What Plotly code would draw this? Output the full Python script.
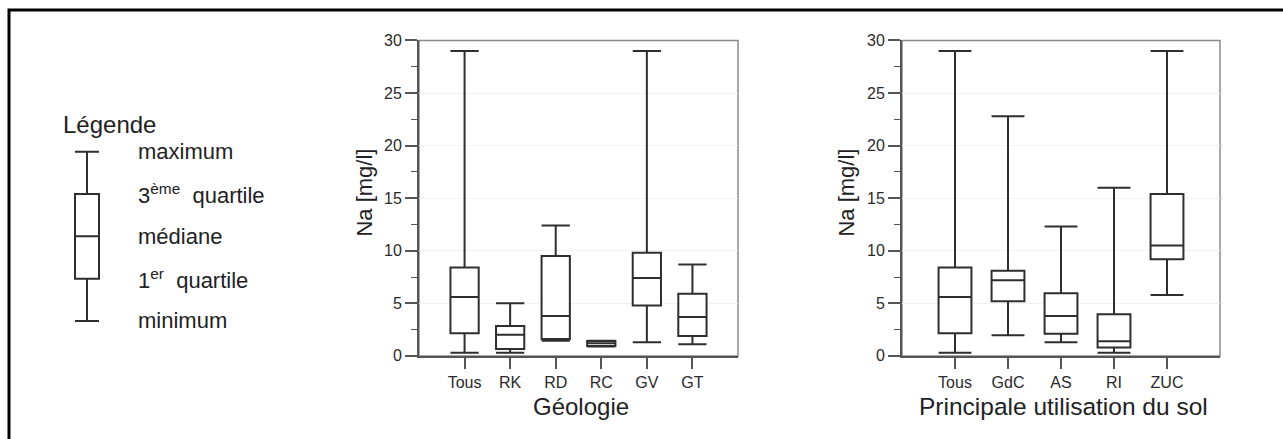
import plotly.graph_objects as go

W, H = 1283, 439
FONT = "Liberation Sans, Arial, sans-serif"

# ---------------- data ----------------
geo_cats = ["Tous", "RK", "RD", "RC", "GV", "GT"]
geo_min = [0.3, 0.3, 1.45, 0.9, 1.3, 1.1]
geo_q1 = [2.15, 0.65, 1.6, 0.95, 4.8, 1.9]
geo_med = [5.6, 2.0, 3.8, 1.2, 7.4, 3.7]
geo_q3 = [8.4, 2.85, 9.5, 1.42, 9.8, 5.9]
geo_max = [29.0, 5.0, 12.4, 1.45, 29.0, 8.7]

sol_cats = ["Tous", "GdC", "AS", "RI", "ZUC"]
sol_min = [0.3, 1.95, 1.3, 0.3, 5.8]
sol_q1 = [2.15, 5.2, 2.1, 0.8, 9.2]
sol_med = [5.6, 7.2, 3.8, 1.4, 10.5]
sol_q3 = [8.4, 8.1, 5.95, 3.95, 15.4]
sol_max = [29.0, 22.8, 12.3, 16.0, 29.0]

# schematic legend box (positions of each statistic)
leg_stats = [0, 1, 2, 3, 4]
leg_labels = ["minimum", "1<sup>er</sup>  quartile", "médiane",
              "3<sup>ème</sup>  quartile", "maximum"]

y_title = "Na [mg/l]"
x_title_geo = "Géologie"
x_title_sol = "Principale utilisation du sol"
legend_title = "Légende"

# the page is shown with an 8px top offset and an effective height of 423px
Y_OFF, H_EFF = 8.0, 423.0


def px(x):
    return x / W


def py(y):
    return 1 - (y - Y_OFF) / H_EFF


def xd(a, b):
    return [px(a), px(b)]


def yd(top, bottom):
    return [py(bottom), py(top)]


TXT = "#222222"
BOX_LINE = dict(color="#2e2e2e", width=2)

fig = go.Figure()

fig.add_trace(go.Box(
    x=geo_cats, q1=geo_q1, median=geo_med, q3=geo_q3,
    lowerfence=geo_min, upperfence=geo_max,
    width=0.62, whiskerwidth=1, fillcolor="white", line=BOX_LINE,
    boxpoints=False, showlegend=False, xaxis="x", yaxis="y"))

fig.add_trace(go.Box(
    x=sol_cats, q1=sol_q1, median=sol_med, q3=sol_q3,
    lowerfence=sol_min, upperfence=sol_max,
    width=0.62, whiskerwidth=1, fillcolor="white", line=BOX_LINE,
    boxpoints=False, showlegend=False, xaxis="x2", yaxis="y2"))

fig.add_trace(go.Box(
    x=[0], q1=[leg_stats[1]], median=[leg_stats[2]], q3=[leg_stats[3]],
    lowerfence=[leg_stats[0]], upperfence=[leg_stats[4]],
    width=1, whiskerwidth=1, fillcolor="white", line=BOX_LINE,
    boxpoints=False, showlegend=False, xaxis="x3", yaxis="y3"))

tickfont = dict(family=FONT, size=16, color="#2a2a2a")

common_y = dict(
    range=[0, 30], tick0=0, dtick=5, ticks="outside", ticklen=12,
    tickwidth=1.5, tickcolor="#555555", showline=True, linecolor="#555555",
    linewidth=2, showgrid=True, gridcolor="#f1f1f1", zeroline=False,
    tickfont=tickfont, fixedrange=True,
    minor=dict(dtick=2.5, tick0=0, ticks="outside", ticklen=6,
               tickcolor="#555555", tickwidth=1.2, showgrid=False))

common_x = dict(
    type="category", ticks="outside", ticklen=11, tickwidth=1.5,
    tickcolor="#555555", showline=True, linecolor="#555555", linewidth=2,
    showgrid=False, zeroline=False, tickfont=tickfont, fixedrange=True)

P1 = (419, 738)
P2 = (902, 1220)
PT, PB = 40.5, 356.7

# legend schematic: value 0..4 -> pixel 321.7..152 (42.4 px per unit)
LEG_TOP = 152 - 21.2
LEG_BOT = 321.7 + 21.2

fig.update_layout(
    width=W, height=H, autosize=False,
    margin=dict(l=0, r=0, t=0, b=0, pad=0),
    paper_bgcolor="white", plot_bgcolor="white",
    font=dict(family=FONT, color=TXT),
    xaxis=dict(common_x, domain=xd(*P1), anchor="y",
               range=[-1, len(geo_cats)]),
    yaxis=dict(common_y, domain=yd(PT, PB), anchor="x"),
    xaxis2=dict(common_x, domain=xd(*P2), anchor="y2",
                range=[-1, len(sol_cats)]),
    yaxis2=dict(common_y, domain=yd(PT, PB), anchor="x2"),
    xaxis3=dict(domain=xd(63, 111), range=[-1, 1], visible=False,
                anchor="y3", fixedrange=True),
    yaxis3=dict(domain=yd(LEG_TOP, LEG_BOT), range=[-0.5, 4.5],
                visible=False, anchor="x3", fixedrange=True),
)

shapes = []
# plot frames (top/right lighter border)
for xr, yr in (("x domain", "y domain"), ("x2 domain", "y2 domain")):
    shapes.append(dict(type="rect", xref=xr, yref=yr, x0=0, x1=1, y0=0, y1=1,
                       line=dict(color="#8a8a8a", width=1.5), layer="below"))
# outer black frame (cut off on the right and bottom)
shapes.append(dict(type="rect", xref="paper", yref="paper",
                   x0=px(9), x1=px(1300), y0=py(470), y1=py(10),
                   line=dict(color="black", width=3)))
fig.update_layout(shapes=shapes)

ann = []
ann.append(dict(text=x_title_geo, xref="paper", yref="paper",
                x=px((P1[0] + P1[1]) / 2 + 2), y=py(407),
                xanchor="center", yanchor="middle", showarrow=False,
                font=dict(family=FONT, size=24, color=TXT)))
ann.append(dict(text=x_title_sol, xref="paper", yref="paper",
                x=px((P2[0] + P2[1]) / 2 + 2), y=py(407),
                xanchor="center", yanchor="middle", showarrow=False,
                font=dict(family=FONT, size=24.5, color=TXT)))
for xc in (365, 847):
    ann.append(dict(text=y_title, xref="paper", yref="paper",
                    x=px(xc), y=py(193), textangle=-90,
                    xanchor="center", yanchor="middle", showarrow=False,
                    font=dict(family=FONT, size=22, color=TXT)))
ann.append(dict(text=legend_title, xref="paper", yref="paper",
                x=px(61), y=py(125), xanchor="left", yanchor="middle",
                showarrow=False,
                font=dict(family=FONT, size=24, color=TXT)))
for v, lab in zip(leg_stats, leg_labels):
    ann.append(dict(text=lab, xref="paper", yref="y3",
                    x=px(136), y=v, xanchor="left", yanchor="middle",
                    showarrow=False,
                    font=dict(family=FONT, size=22, color=TXT)))
fig.update_layout(annotations=ann)

post = (
    "document.body.style.margin='0';"
    "document.body.style.padding='0';"
    "document.body.style.overflow='hidden';"
    "var gd=document.getElementById('{plot_id}');"
    "Plotly.relayout(gd,{width:%d,height:%d});" % (W, H)
)

fig.write_html("out.html",
               config={"displayModeBar": False, "responsive": False},
               post_script=post)
